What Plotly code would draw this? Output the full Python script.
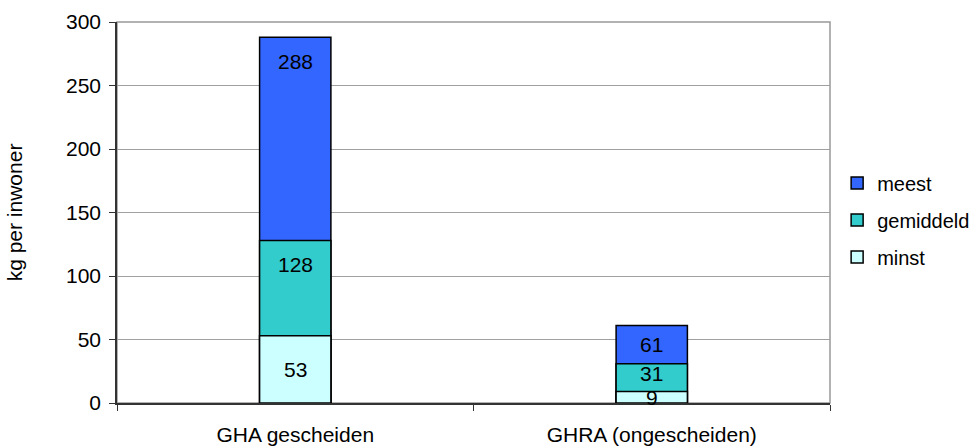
import plotly.graph_objects as go

categories = ["GHA gescheiden", "GHRA (ongescheiden)"]
series_names = ["meest", "gemiddeld", "minst"]
meest = [288, 61]
gemiddeld = [128, 31]
minst = [53, 9]
colors = ["#3366FF", "#33CCCC", "#CCFFFF"]

values = [meest, gemiddeld, minst]

fig = go.Figure()
for name, vals, col in zip(series_names, values, colors):
    fig.add_trace(go.Bar(
        x=categories, y=vals, name=name, legendgroup=name,
        marker=dict(color=col, line=dict(color="#000000", width=1.5)),
        width=0.2,
    ))

# data labels: from the bottom series upward, keep a minimum spacing
annotations = []
min_gap = 19
for j, cat in enumerate(categories):
    prev_y = None
    for i in range(len(values) - 1, -1, -1):
        top = values[i][j]
        bottom = values[i + 1][j] if i + 1 < len(values) else 0
        if top - bottom > 60:
            y = top - 19
        else:
            y = (top + bottom) / 2
        if prev_y is not None and y - prev_y < min_gap:
            y = prev_y + min_gap
        prev_y = y
        annotations.append(dict(x=cat, y=y, text=str(top), showarrow=False,
                                font=dict(size=21, color="#000000"),
                                xref="x", yref="y"))

fig.update_layout(
    barmode="overlay",
    width=973, height=446,
    margin=dict(l=117, r=143, t=22, b=43, autoexpand=False),
    paper_bgcolor="white", plot_bgcolor="white",
    font=dict(family="Liberation Sans, Arial, sans-serif", size=21, color="#000000"),
    showlegend=True,
    legend=dict(x=1.01, y=0.48, xanchor="left", yanchor="middle",
                font=dict(size=20), tracegroupgap=8, itemwidth=30),
    annotations=annotations,
    shapes=[dict(type="rect", xref="paper", yref="paper", x0=0, y0=0, x1=1, y1=1,
                 line=dict(color="#999999", width=1.5), layer="below")],
)
fig.update_xaxes(
    type="category", range=[-0.5, 1.5], tickson="boundaries", automargin=False,
    ticks="outside", ticklen=6, tickcolor="#333333",
    showline=True, linecolor="#333333", linewidth=1.5,
    showgrid=False, tickfont=dict(size=21), ticklabelstandoff=12,
)
fig.update_yaxes(
    range=[0, 300], dtick=50, ticks="outside", ticklen=6, tickcolor="#333333",
    showline=True, linecolor="#333333", linewidth=1.5, automargin=False,
    showgrid=True, gridcolor="#a0a0a0", gridwidth=1,
    zeroline=False, tickfont=dict(size=21), ticklabelstandoff=4,
    title=dict(text="kg per inwoner", font=dict(size=21), standoff=38),
)

fig.write_html("out.html", post_script="document.body.style.margin='0';",
               config={"displayModeBar": False})
